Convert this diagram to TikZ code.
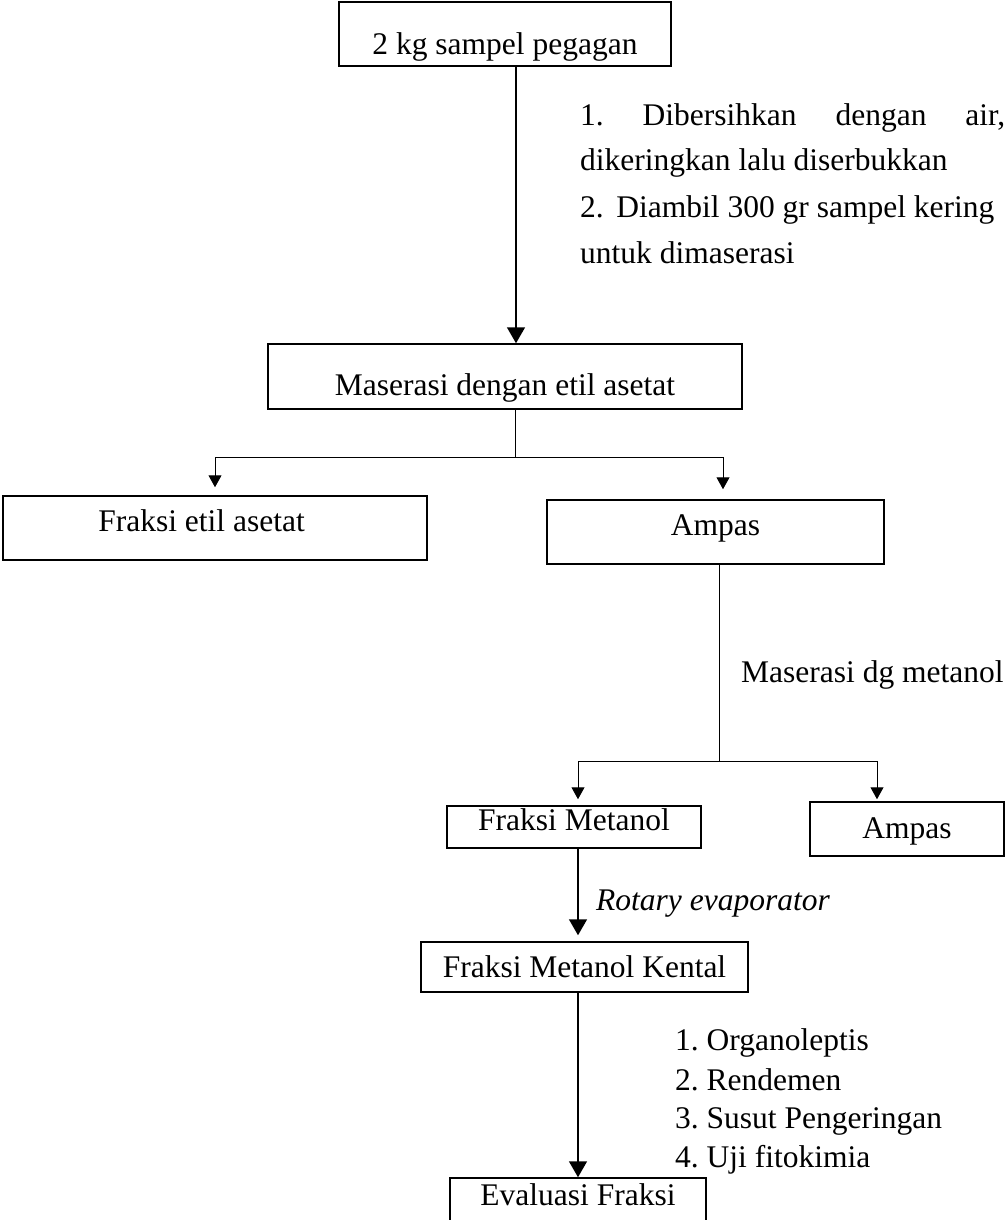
\documentclass[tikz,border=0pt]{standalone}
\usepackage{fontspec}
\setmainfont{Liberation Serif}
\usetikzlibrary{arrows.meta}
\frenchspacing
\begin{document}
\begin{tikzpicture}[x=1pt,y=-1pt,
  font=\fontsize{31.5}{38}\selectfont,
  box/.style={draw, line width=1.5pt, inner sep=0pt, text depth=0pt, anchor=center},
  bigarrow/.style={line width=1.5pt, -{Triangle[length=16pt,width=18pt]}},
  smallarrow/.style={line width=1pt, -{Triangle[length=12pt,width=13pt]}},
  branch/.style={line width=1pt},
  note/.style={anchor=base west, inner sep=0pt}]
\useasboundingbox (0,0) rectangle (1007,1220);

% boxes
\node[box, minimum width=332pt, minimum height=64pt, text height=42pt] (b1) at (505,34) {2 kg sampel pegagan};
\node[box, minimum width=474pt, minimum height=65pt, text height=37pt] (b2) at (505,376.5) {Maserasi dengan etil asetat};
\node[box, minimum width=424pt, minimum height=64pt, text height=6pt] (fea) at (215,528) {Fraksi etil asetat\hspace*{27pt}};
\node[box, minimum width=337pt, minimum height=64pt, text height=6pt] (amp) at (715.5,532) {Ampas};
\node[box, minimum width=254pt, minimum height=42pt, text height=6pt] (fm) at (574,827) {Fraksi Metanol};
\node[box, minimum width=194pt, minimum height=54pt, text height=18pt] (amp2) at (907,829) {Ampas};
\node[box, minimum width=327pt, minimum height=50pt, text height=20pt] (fmk) at (584.5,967) {Fraksi Metanol Kental};
\node[box, minimum width=256pt, minimum height=46pt, text height=8pt] (ev) at (578,1201) {Evaluasi Fraksi};

% annotations
\node[note] (t1) at (580,125) {\hbox to 425pt{1.\hfill Dibersihkan\hfill dengan\hfill air,}};
\node[note] (t2) at (580,170) {dikeringkan lalu diserbukkan};
\node[note] (t3) at (580,217) {2.\hspace{0.4em}Diambil 300 gr sampel kering};
\node[note] (t4) at (580,263) {untuk dimaserasi};
\node[note] (t5) at (741,682) {Maserasi dg metanol};
\node[note] (t6) at (596,910) {\itshape Rotary evaporator};
\node[note] (l1) at (675,1050) {1. Organoleptis};
\node[note] (l2) at (675,1090) {2. Rendemen};
\node[note] (l3) at (675,1128) {3. Susut Pengeringan};
\node[note] (l4) at (675,1167) {4. Uji fitokimia};

% connectors
\draw[bigarrow] ([xshift=11pt]b1.south) -- ([xshift=11pt]b2.north);
\draw[branch] ([xshift=10pt]b2.south) -- ++(0,48) coordinate (j1);
\draw[smallarrow] (j1) -| ([yshift=8pt]fea.north);
\draw[smallarrow] (j1) -| ([xshift=7.5pt,yshift=10pt]amp.north);
\draw[branch] ([xshift=3.5pt]amp.south) -- ++(0,197) coordinate (j2);
\draw[smallarrow] (j2) -| ([xshift=4pt,yshift=6pt]fm.north);
\draw[smallarrow] (j2) -| ([xshift=-30pt,yshift=2pt]amp2.north);
\draw[bigarrow] ([xshift=4pt]fm.south) -- ([xshift=-6.5pt,yshift=6pt]fmk.north);
\draw[bigarrow] ([xshift=-6.5pt]fmk.south) -- (ev.north);
\end{tikzpicture}
\end{document}
